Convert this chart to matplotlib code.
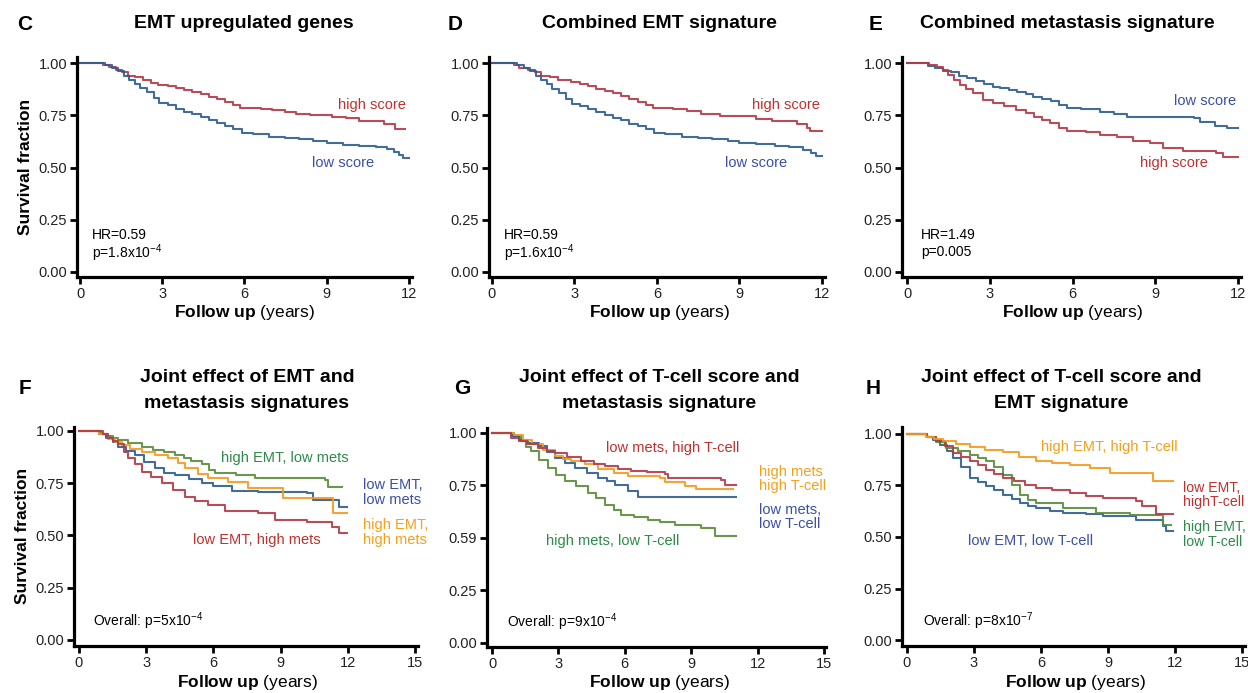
import matplotlib
matplotlib.use("Agg")
import matplotlib.pyplot as plt

plt.rcParams["font.family"] = ["Liberation Sans", "DejaVu Sans"]
plt.rcParams["mathtext.fontset"] = "custom"
plt.rcParams["mathtext.rm"] = "Liberation Sans"
plt.rcParams["mathtext.it"] = "Liberation Sans:italic"
plt.rcParams["mathtext.bf"] = "Liberation Sans:bold"

RED = "#b03a46"
BLUE = "#2d5d8e"
GREEN = "#5b8c3a"
ORANGE = "#f39a1e"
RED_TXT = "#c0302e"
BLUE_TXT = "#3b4fa8"
GREEN_TXT = "#2e8a4a"
ORANGE_TXT = "#f5a01a"

# ---- datos (tiempo en años, fracción de supervivencia) ----
# C: EMT upregulated genes
c_high_t = [0, 0.85, 1.05, 1.3, 1.55, 1.75, 2.0, 2.3, 2.6, 2.85, 3.2, 3.5, 3.8, 4.1, 4.4, 4.7, 5.0, 5.3,
            5.6, 5.85, 6.6, 7.0, 7.5, 7.9, 8.4, 9.2, 9.7, 10.2, 11.1, 11.5, 11.85]
c_high_s = [1.0, 0.99, 0.98, 0.967, 0.955, 0.94, 0.935, 0.92, 0.905, 0.895, 0.89, 0.879, 0.872, 0.863,
            0.852, 0.838, 0.826, 0.815, 0.80, 0.783, 0.78, 0.775, 0.768, 0.757, 0.752, 0.742, 0.735,
            0.724, 0.71, 0.686, 0.686]
c_low_t = [0, 0.9, 1.15, 1.4, 1.6, 1.8, 2.0, 2.2, 2.45, 2.7, 2.9, 3.2, 3.5, 3.8, 4.1, 4.4, 4.7, 5.0, 5.3,
           5.6, 5.9, 6.3, 6.9, 7.5, 8.0, 8.5, 9.0, 9.6, 10.2, 10.8, 11.2, 11.45, 11.65, 11.8, 12.0]
c_low_s = [1.0, 0.99, 0.975, 0.96, 0.94, 0.92, 0.9, 0.88, 0.86, 0.835, 0.81, 0.797, 0.782, 0.768, 0.755,
           0.74, 0.727, 0.713, 0.70, 0.685, 0.667, 0.658, 0.648, 0.642, 0.635, 0.625, 0.615, 0.61, 0.603,
           0.598, 0.588, 0.575, 0.56, 0.545, 0.545]

# D: Combined EMT signature
d_high_t = [0, 0.8, 1.0, 1.3, 1.55, 1.8, 2.1, 2.4, 2.87, 3.2, 3.5, 3.8, 4.1, 4.4, 4.7, 5.0, 5.3, 5.6,
            5.85, 6.6, 7.1, 7.6, 8.3, 9.2, 9.6, 10.2, 11.1, 11.45, 11.55, 12.0]
d_high_s = [1.0, 0.99, 0.975, 0.965, 0.955, 0.94, 0.933, 0.92, 0.908, 0.9, 0.89, 0.877, 0.866, 0.855,
            0.84, 0.827, 0.815, 0.8, 0.783, 0.78, 0.77, 0.758, 0.746, 0.745, 0.732, 0.724, 0.71, 0.69,
            0.675, 0.675]
d_low_t = [0, 0.9, 1.15, 1.4, 1.6, 1.8, 2.0, 2.2, 2.45, 2.7, 2.9, 3.2, 3.5, 3.8, 4.1, 4.4, 4.7, 5.0, 5.3,
           5.6, 5.9, 6.3, 6.9, 7.5, 8.0, 8.6, 9.0, 9.6, 10.3, 10.8, 11.3, 11.6, 11.8, 12.0]
d_low_s = [1.0, 0.99, 0.975, 0.96, 0.94, 0.92, 0.9, 0.877, 0.855, 0.83, 0.805, 0.795, 0.78, 0.767, 0.753,
           0.738, 0.725, 0.71, 0.697, 0.682, 0.667, 0.66, 0.648, 0.642, 0.638, 0.625, 0.615, 0.612, 0.605,
           0.598, 0.585, 0.568, 0.553, 0.553]

# E: Combined metastasis signature
e_low_t = [0, 0.77, 1.0, 1.3, 1.6, 1.9, 2.16, 2.5, 2.8, 3.1, 3.37, 3.7, 4.0, 4.3, 4.57, 4.9, 5.2, 5.5,
           5.79, 6.3, 7.0, 7.5, 7.96, 10.4, 10.6, 11.16, 11.6, 12.0]
e_low_s = [1.0, 0.985, 0.975, 0.962, 0.955, 0.94, 0.927, 0.915, 0.9, 0.885, 0.879, 0.87, 0.86, 0.85,
           0.839, 0.83, 0.818, 0.80, 0.783, 0.778, 0.764, 0.757, 0.743, 0.738, 0.719, 0.70, 0.69, 0.69]
e_high_t = [0, 0.8, 1.1, 1.3, 1.5, 1.7, 1.92, 2.15, 2.4, 2.76, 3.1, 3.5, 3.96, 4.3, 4.6, 4.9, 5.18, 5.5,
            5.79, 6.5, 7.0, 7.6, 8.2, 8.8, 9.29, 10.0, 11.2, 11.46, 12.0]
e_high_s = [1.0, 0.99, 0.98, 0.967, 0.945, 0.92, 0.895, 0.875, 0.855, 0.823, 0.81, 0.795, 0.775, 0.76,
            0.743, 0.725, 0.711, 0.69, 0.675, 0.67, 0.656, 0.645, 0.627, 0.615, 0.595, 0.579, 0.57, 0.55,
            0.55]

# F: EMT x metástasis
f_green_t = [0, 1.0, 1.2, 1.5, 1.76, 2.2, 2.8, 3.3, 3.8, 4.29, 4.7, 5.0, 5.48, 5.8, 6.07, 7.0, 7.86,
             10.98, 11.13, 11.73]
f_green_s = [1.0, 0.985, 0.975, 0.965, 0.957, 0.94, 0.925, 0.91, 0.9, 0.885, 0.87, 0.855, 0.841, 0.815,
             0.797, 0.787, 0.773, 0.766, 0.731, 0.731]
f_blue_t = [0, 0.9, 1.2, 1.5, 1.76, 2.1, 2.5, 2.9, 3.39, 3.8, 4.29, 4.9, 5.48, 6.0, 6.82, 8.0, 10.2,
            10.45, 11.6, 11.95]
f_blue_s = [1.0, 0.985, 0.965, 0.945, 0.925, 0.905, 0.885, 0.85, 0.821, 0.80, 0.789, 0.77, 0.75, 0.735,
            0.713, 0.706, 0.702, 0.67, 0.638, 0.638]
f_orange_t = [0, 0.9, 1.3, 1.6, 1.9, 2.3, 2.8, 3.4, 3.99, 4.4, 4.73, 5.3, 5.77, 6.67, 7.56, 9.1, 11.35,
              11.95]
f_orange_s = [1.0, 0.985, 0.96, 0.945, 0.933, 0.915, 0.9, 0.885, 0.869, 0.845, 0.821, 0.795, 0.773,
              0.757, 0.729, 0.68, 0.606, 0.606]
f_red_t = [0, 1.07, 1.3, 1.5, 1.76, 2.0, 2.2, 2.5, 2.8, 3.2, 3.69, 4.2, 4.73, 5.2, 5.77, 6.52, 8.0, 8.75,
           10.2, 11.28, 11.6, 11.95]
f_red_s = [1.0, 0.985, 0.965, 0.95, 0.935, 0.9, 0.869, 0.84, 0.805, 0.78, 0.75, 0.718, 0.686, 0.665,
           0.646, 0.617, 0.606, 0.574, 0.563, 0.542, 0.51, 0.51]

# G: T-cell x metástasis
g_red_t = [0, 0.86, 1.2, 1.6, 2.08, 2.5, 2.83, 3.4, 4.04, 4.6, 5.09, 5.7, 6.3, 7.0, 7.8, 7.95, 10.36,
           10.54, 11.04]
g_red_s = [1.0, 0.975, 0.96, 0.945, 0.929, 0.915, 0.905, 0.885, 0.865, 0.852, 0.841, 0.83, 0.821, 0.812,
           0.805, 0.783, 0.778, 0.752, 0.752]
g_orange_t = [0, 1.0, 1.4, 1.8, 2.3, 2.83, 3.2, 3.58, 4.2, 4.79, 5.5, 6.15, 7.6, 7.8, 8.7, 9.23, 10.9]
g_orange_s = [1.0, 0.99, 0.965, 0.945, 0.92, 0.89, 0.875, 0.865, 0.85, 0.83, 0.81, 0.794, 0.786, 0.767,
              0.746, 0.732, 0.732]
g_blue_t = [0, 0.9, 1.2, 1.63, 2.1, 2.5, 2.83, 3.3, 3.74, 4.3, 4.79, 5.2, 5.54, 6.15, 6.6, 11.04]
g_blue_s = [1.0, 0.985, 0.965, 0.952, 0.94, 0.91, 0.881, 0.855, 0.833, 0.81, 0.786, 0.77, 0.754, 0.722,
            0.697, 0.697]
g_green_t = [0, 1.0, 1.3, 1.55, 1.78, 2.1, 2.53, 2.9, 3.28, 3.8, 4.34, 4.7, 5.09, 5.5, 5.84, 6.4, 7.05,
             7.6, 8.25, 9.46, 10.06, 11.04]
g_green_s = [1.0, 0.985, 0.96, 0.935, 0.913, 0.87, 0.833, 0.80, 0.77, 0.745, 0.714, 0.69, 0.659, 0.635,
             0.611, 0.60, 0.587, 0.575, 0.563, 0.546, 0.51, 0.51]
g_yticklabels = ["0.00", "0.25", "0.59", "0.75", "1.00"]

# H: T-cell x EMT
h_orange_t = [0, 0.87, 1.2, 1.61, 2.2, 2.8, 3.5, 4.3, 5.0, 5.79, 6.5, 7.29, 8.2, 9.08, 11.0, 11.9]
h_orange_s = [1.0, 0.985, 0.975, 0.965, 0.95, 0.935, 0.92, 0.91, 0.89, 0.868, 0.86, 0.851, 0.835, 0.81,
              0.773, 0.773]
h_red_t = [0, 0.9, 1.31, 1.7, 2.06, 2.4, 2.8, 3.2, 3.55, 3.9, 4.3, 4.8, 5.3, 5.79, 6.5, 7.29, 8.0, 8.78,
           10.27, 10.5, 11.16, 11.9]
h_red_s = [1.0, 0.985, 0.965, 0.94, 0.908, 0.89, 0.868, 0.85, 0.827, 0.805, 0.786, 0.77, 0.752, 0.738,
           0.728, 0.714, 0.70, 0.689, 0.676, 0.649, 0.612, 0.612]
h_green_t = [0, 0.9, 1.3, 1.76, 2.3, 2.8, 3.2, 3.55, 3.9, 4.3, 4.7, 5.05, 5.4, 5.79, 6.99, 8.48, 9.97,
             11.45, 11.8]
h_green_s = [1.0, 0.985, 0.96, 0.932, 0.915, 0.9, 0.885, 0.868, 0.84, 0.802, 0.75, 0.705, 0.68, 0.663,
             0.641, 0.615, 0.605, 0.557, 0.557]
h_blue_t = [0, 0.9, 1.16, 1.5, 1.8, 2.06, 2.4, 2.8, 3.2, 3.55, 3.9, 4.3, 4.7, 5.05, 5.4, 5.79, 6.4, 6.99,
            8.0, 8.78, 10.27, 11.46, 11.6, 11.9]
h_blue_s = [1.0, 0.985, 0.97, 0.945, 0.915, 0.883, 0.84, 0.786, 0.765, 0.746, 0.728, 0.705, 0.685, 0.665,
            0.65, 0.641, 0.628, 0.617, 0.61, 0.60, 0.584, 0.552, 0.528, 0.528]

y_ticks = [0, 0.25, 0.5, 0.75, 1.0]
y_ticklabels = ["0.00", "0.25", "0.50", "0.75", "1.00"]


def km(ax, t, s, color):
    """Curva Kaplan-Meier escalonada."""
    ax.plot(t, s, drawstyle="steps-post", color=color, linewidth=1.5, alpha=0.9)


def style_axes(ax, xticks, xlim, ylim, ylabels=y_ticklabels, ylabel=False):
    for side in ["top", "right"]:
        ax.spines[side].set_visible(False)
    for side in ["left", "bottom"]:
        ax.spines[side].set_linewidth(2.3)
        ax.spines[side].set_color("black")
    ax.set_xlim(*xlim)
    ax.set_ylim(*ylim)
    ax.set_xticks(xticks)
    ax.set_yticks(y_ticks)
    ax.set_yticklabels(ylabels)
    ax.tick_params(axis="both", direction="out", length=5, width=2.0, pad=2,
                   labelsize=10.5, labelcolor="#222222")
    if ylabel:
        ax.set_ylabel("Survival fraction", fontsize=12.5, fontweight="bold", labelpad=4)


def stats(ax, x, y1, y2, line1, line2):
    # dos líneas separadas: HR y valor p
    ax.text(x, y1, line1, fontsize=10, va="center")
    ax.text(x, y2, line2, fontsize=10, va="center")


def follow_up(fig, x, y):
    fig.text(x, y, "$\\mathbf{Follow\\ up}$ (years)", fontsize=12.5, ha="center", va="center")


fig = plt.figure(figsize=(12.48, 6.93), dpi=100)
W, H = 1248, 693


def px(x, y):
    return x / W, 1 - y / H


def label(fig, x, y, txt, size=14):
    fig.text(*px(x, y), txt, fontsize=size, fontweight="bold", ha="center", va="center")


# ---- fila superior ----
ax_c = fig.add_axes([0.0617, 0.6003, 0.2684, 0.3175])
km(ax_c, c_high_t, c_high_s, RED)
km(ax_c, c_low_t, c_low_s, BLUE)
style_axes(ax_c, [0, 3, 6, 9, 12], (-0.11, 12.12), (-0.024, 1.029), ylabel=True)
ax_c.text(10.66, 0.80, "high score", color=RED_TXT, fontsize=10.5, ha="center", va="center")
ax_c.text(9.6, 0.52, "low score", color=BLUE_TXT, fontsize=10.5, ha="center", va="center")
stats(ax_c, 0.44, 0.178, 0.092, "HR=0.59", "p=1.8x10$^{-4}$")

ax_d = fig.add_axes([0.3918, 0.6003, 0.2692, 0.3175])
km(ax_d, d_high_t, d_high_s, RED)
km(ax_d, d_low_t, d_low_s, BLUE)
style_axes(ax_d, [0, 3, 6, 9, 12], (-0.11, 12.11), (-0.024, 1.029))
ax_d.text(10.7, 0.80, "high score", color=RED_TXT, fontsize=10.5, ha="center", va="center")
ax_d.text(9.6, 0.52, "low score", color=BLUE_TXT, fontsize=10.5, ha="center", va="center")
stats(ax_d, 0.44, 0.178, 0.092, "HR=0.59", "p=1.6x10$^{-4}$")

ax_e = fig.add_axes([0.7228, 0.6003, 0.2716, 0.3175])
km(ax_e, e_low_t, e_low_s, BLUE)
km(ax_e, e_high_t, e_high_s, RED)
style_axes(ax_e, [0, 3, 6, 9, 12], (-0.18, 12.1), (-0.024, 1.029))
ax_e.text(10.8, 0.818, "low score", color=BLUE_TXT, fontsize=10.5, ha="center", va="center")
ax_e.text(9.67, 0.52, "high score", color=RED_TXT, fontsize=10.5, ha="center", va="center")
stats(ax_e, 0.5, 0.178, 0.095, "HR=1.49", "p=0.005")

# ---- fila inferior ----
ax_f = fig.add_axes([0.0593, 0.0678, 0.2756, 0.3165])
km(ax_f, f_green_t, f_green_s, GREEN)
km(ax_f, f_blue_t, f_blue_s, BLUE)
km(ax_f, f_orange_t, f_orange_s, ORANGE)
km(ax_f, f_red_t, f_red_s, RED)
style_axes(ax_f, [0, 3, 6, 9, 12, 15], (-0.22, 15.13), (-0.029, 1.02), ylabel=True)
ax_f.text(9.18, 0.869, "high EMT, low mets", color=GREEN_TXT, fontsize=10.5, ha="center", va="center")
ax_f.text(12.66, 0.705, "low EMT,\nlow mets", color=BLUE_TXT, fontsize=10.5, va="center",
          linespacing=1.05)
ax_f.text(12.66, 0.515, "high EMT,\nhigh mets", color=ORANGE_TXT, fontsize=10.5, va="center",
          linespacing=1.05)
ax_f.text(7.95, 0.478, "low EMT, high mets", color=RED_TXT, fontsize=10.5, ha="center", va="center")
ax_f.text(0.63, 0.088, "Overall: p=5x10$^{-4}$", fontsize=10, va="center")

ax_g = fig.add_axes([0.3902, 0.0664, 0.2716, 0.3156])
km(ax_g, g_green_t, g_green_s, GREEN)
km(ax_g, g_blue_t, g_blue_s, BLUE)
km(ax_g, g_orange_t, g_orange_s, ORANGE)
km(ax_g, g_red_t, g_red_s, RED)
style_axes(ax_g, [0, 3, 6, 9, 12, 15], (-0.23, 15.09), (-0.019, 1.022), ylabels=g_yticklabels)
ax_g.text(8.17, 0.927, "low mets, high T-cell", color=RED_TXT, fontsize=10.5, ha="center", va="center")
ax_g.text(12.08, 0.78, "high mets\nhigh T-cell", color=ORANGE_TXT, fontsize=10.5, va="center",
          linespacing=1.05)
ax_g.text(12.08, 0.60, "low mets,\nlow T-cell", color=BLUE_TXT, fontsize=10.5, va="center",
          linespacing=1.05)
ax_g.text(5.46, 0.486, "high mets, low T-cell", color=GREEN_TXT, fontsize=10.5, ha="center", va="center")
ax_g.text(0.66, 0.10, "Overall: p=9x10$^{-4}$", fontsize=10, va="center")

ax_h = fig.add_axes([0.7228, 0.0678, 0.2748, 0.3165])
km(ax_h, h_blue_t, h_blue_s, BLUE)
km(ax_h, h_green_t, h_green_s, GREEN)
km(ax_h, h_red_t, h_red_s, RED)
km(ax_h, h_orange_t, h_orange_s, ORANGE)
style_axes(ax_h, [0, 3, 6, 9, 12, 15], (-0.22, 15.13), (-0.029, 1.035))
ax_h.text(9.04, 0.938, "high EMT, high T-cell", color=ORANGE_TXT, fontsize=10.5, ha="center", va="center")
ax_h.text(12.35, 0.704, "low EMT,\nhighT-cell", color=RED_TXT, fontsize=10.2, va="center",
          linespacing=1.05)
ax_h.text(12.35, 0.511, "high EMT,\nlow T-cell", color=GREEN_TXT, fontsize=10.2, va="center",
          linespacing=1.05)
ax_h.text(5.54, 0.482, "low EMT, low T-cell", color=BLUE_TXT, fontsize=10.5, ha="center", va="center")
ax_h.text(0.73, 0.089, "Overall: p=8x10$^{-7}$", fontsize=10, va="center")

# títulos y letras de panel
label(fig, 25, 25, "C", 15)
label(fig, 455, 25, "D", 15)
label(fig, 876, 24, "E", 15)
label(fig, 25, 388, "F", 15)
label(fig, 462, 389, "G", 15)
label(fig, 873, 388, "H", 15)

label(fig, 244, 23, "EMT upregulated genes")
label(fig, 659, 23, "Combined EMT signature")
label(fig, 1067, 23, "Combined metastasis signature")
label(fig, 247, 378, "Joint effect of EMT and")
label(fig, 247, 403, "metastasis signatures")
label(fig, 659, 378, "Joint effect of T-cell score and")
label(fig, 659, 403, "metastasis signature")
label(fig, 1061, 378, "Joint effect of T-cell score and")
label(fig, 1061, 403, "EMT signature")

for xc, yc in [(244, 312), (659, 312), (1072, 312), (247, 683), (659, 683), (1075, 683)]:
    follow_up(fig, *px(xc, yc))

fig.savefig("out.png", dpi=100)
